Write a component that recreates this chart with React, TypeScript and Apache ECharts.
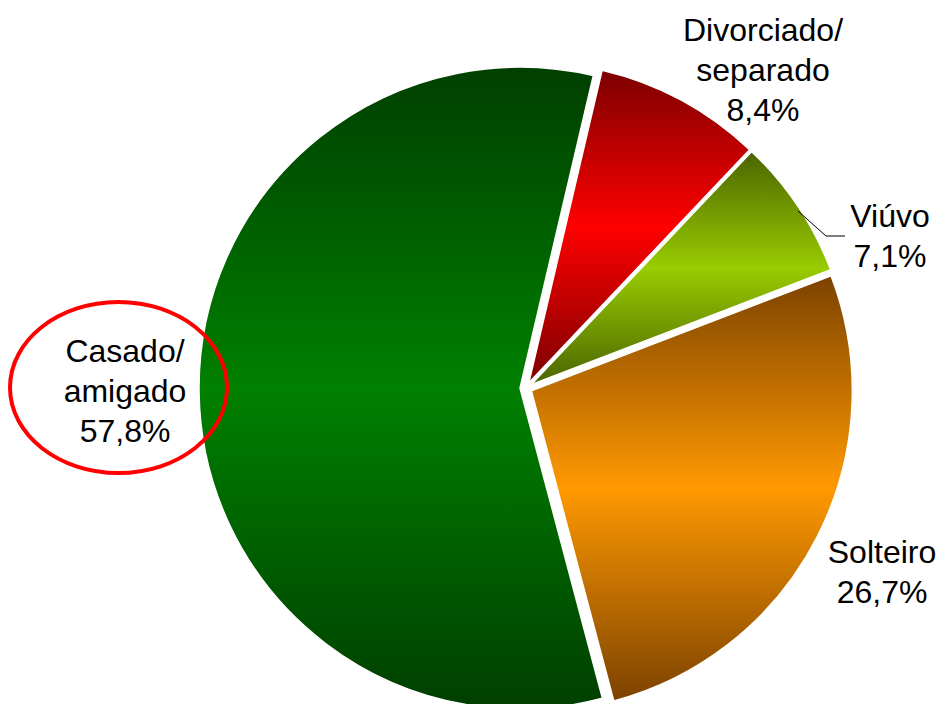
import React, { useEffect, useRef } from 'react';
import * as echarts from 'echarts';

// ---- data ----
const categories = ['Divorciado/separado', 'Viúvo', 'Solteiro', 'Casado/amigado'];
const values = [8.4, 7.1, 26.7, 57.8];
// gradient colours per slice: [dark edge, bright middle]
const sliceDark = ['#7c0000', '#4a6400', '#7c4200', '#003f00'];
const sliceBright = ['#ff0000', '#99cc00', '#ff9900', '#008000'];

// ---- layout (label block centres) ----
const labelAnchors: number[][] = [
  [763, 70],
  [890, 236],
  [882, 572],
  [125, 391],
];
const viuvoLeader: number[][] = [
  [798, 211],
  [826, 236],
  [845, 236],
];

const fmt = (name: string, v: number) =>
  name.replace('/', '/\n') + '\n' + v.toFixed(1).replace('.', ',') + '%';

export default function App() {
  const ref = useRef<HTMLDivElement>(null);
  useEffect(() => {
    document.body.style.margin = '0';
    const chart = echarts.init(ref.current!, undefined, { renderer: 'svg' });
    const data = categories.map((name, i) => ({
      name,
      value: values[i],
      selected: true,
      itemStyle: {
        color: new echarts.graphic.LinearGradient(0, 0, 0, 1, [
          { offset: 0, color: sliceDark[i] },
          { offset: 0.5, color: sliceBright[i] },
          { offset: 1, color: sliceDark[i] },
        ]),
      },
    }));
    const labelTexts = categories.map((name, i) => ({
      type: 'text',
      z: 50,
      x: labelAnchors[i][0],
      y: labelAnchors[i][1],
      style: {
        text: fmt(name, values[i]),
        fill: '#000000',
        fontFamily: '"Liberation Sans", Arial, sans-serif',
        fontSize: 32,
        lineHeight: 40,
        align: 'center',
        verticalAlign: 'middle',
      },
    }));
    chart.setOption({
      animation: false,
      backgroundColor: '#ffffff',
      graphic: [
        ...labelTexts,
        {
          type: 'polyline',
          z: 50,
          shape: { points: viuvoLeader },
          style: { fill: 'none', stroke: '#000000', lineWidth: 1 },
        },
        {
          type: 'ellipse',
          z: 100,
          shape: { cx: 118.5, cy: 387.5, rx: 108.5, ry: 85.5 },
          style: { fill: 'none', stroke: '#ff0000', lineWidth: 4 },
        },
      ],
      series: [
        {
          type: 'pie',
          center: [526, 388],
          radius: 321,
          startAngle: 76.8,
          clockwise: true,
          selectedMode: 'multiple',
          selectedOffset: 6,
          silent: true,
          emphasis: { disabled: true },
          itemStyle: { borderColor: '#ffffff', borderWidth: 1.5 },
          label: { show: false },
          labelLine: { show: false },
          data,
        },
      ],
    });
    return () => chart.dispose();
  }, []);
  return <div ref={ref} style={{ width: 941, height: 704 }} />;
}
